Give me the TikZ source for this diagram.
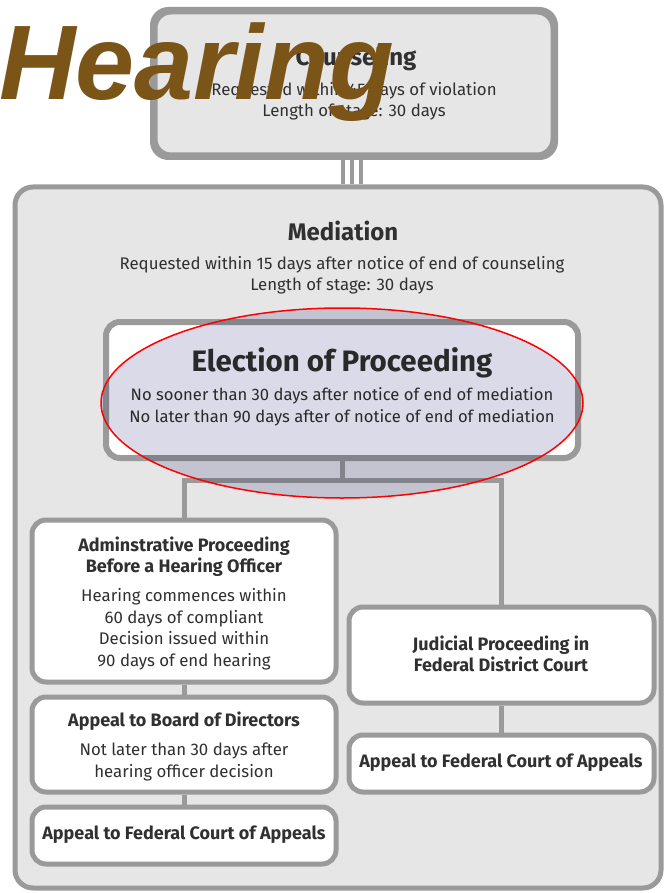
\documentclass[tikz,border=0pt]{standalone}
\usepackage{fontspec}
\setmainfont{Fira Sans}
\newfontfamily\stampfont{Liberation Sans}
\usetikzlibrary{calc}
\definecolor{edgegray}{HTML}{9A9A9A}
\definecolor{panel}{HTML}{E6E6E6}
\definecolor{ink}{HTML}{303030}
\definecolor{stampbrown}{HTML}{7B5418}
\definecolor{lavender}{RGB}{218,218,232}

\begin{document}
\begin{tikzpicture}[x=1pt,y=-1pt,
  panelbox/.style={draw=edgegray, line width=5pt, rounded corners=16pt, fill=panel, inner sep=0pt},
  stagebox/.style={draw=edgegray, line width=5pt, rounded corners=14pt, fill=white, inner sep=0pt},
  conn/.style={draw=edgegray, line width=5pt},
  heading/.style={text=ink, font=\bfseries\fontsize{24}{30}\selectfont, inner sep=0pt},
  bigheading/.style={text=ink, font=\bfseries\fontsize{29.5}{32}\selectfont, inner sep=0pt},
  boxtitle/.style={text=ink, font=\bfseries\fontsize{18}{21}\selectfont, align=center, inner sep=0pt},
  bodytext/.style={text=ink, font=\fontsize{16.8}{21.5}\selectfont, align=center, inner sep=0pt}
]
\useasboundingbox (0,0) rectangle (664,893);
\fill[white] (0,0) rectangle (664,893);

% Stage boxes
\node[panelbox, minimum width=398, minimum height=143] (counsel) at (354,83.5) {};
\node[panelbox, rounded corners=18pt, minimum width=646, minimum height=701] (med) at (338,537.5) {};

% Three-bar link between counseling and mediation
\fill[white] ($(counsel.south)+(-15,0)$) rectangle ($(counsel.south |- med.north)+(13,0)$);
\foreach \dx in {-11,-2,7}{
  \draw[edgegray, line width=4pt] ($(counsel.south)+(\dx,0)$) -- ($(counsel.south |- med.north)+(\dx,0)$);
}
\draw[edgegray, line width=5pt, rounded corners=16pt] (counsel.south west) rectangle (counsel.north east);

% Branch point below the election box
\coordinate (split) at (342,480);

\node[stagebox, line width=6pt, minimum width=472, minimum height=136] (elect) at (342,390) {};
\node[stagebox, minimum width=304, minimum height=162] (admin) at (184,601) {};
\node[stagebox, minimum width=304, minimum height=95] (board) at (184,744.5) {};
\node[stagebox, minimum width=304, minimum height=57] (fcaleft) at (184,835.5) {};
\node[stagebox, minimum width=305, minimum height=96] (judic) at (501.5,655) {};
\node[stagebox, minimum width=305, minimum height=57] (fcaright) at (501.5,763.5) {};

% Connectors
\draw[conn] (elect.south) -- (split);
\draw[conn] (admin.north) |- (split) -| (judic.north);
\draw[conn] (admin.south) -- (board.north);
\draw[conn] (board.south) -- (fcaleft.north);
\draw[conn] (judic.south) -- (fcaright.north);

% Texts
\node[heading] (counseltitle) at (356,58) {Counseling};
\node[bodytext] (counselbody) at (354,101) {Requested within 45 days of violation\\Length of stage: 30 days};

\node[heading] (medtitle) at (343,231) {Mediation};
\node[bodytext, font=\fontsize{16.8}{20.5}\selectfont] (medbody) at (342,275) {Requested within 15 days after notice of end of counseling\\Length of stage: 30 days};

\node[bigheading] (electtitle) at (342,363) {Election of Proceeding};
\node[bodytext, font=\fontsize{16.6}{22}\selectfont] (electbody) at (342,407) {No sooner than 30 days after notice of end of mediation\\No later than 90 days after of notice of end of mediation};

\node[boxtitle] (admintitle) at (184,557) {Adminstrative Proceeding\\Before a Hearing Officer};
\node[bodytext] (adminbody) at (184,629) {Hearing commences within\\60 days of compliant\\Decision issued within\\90 days of end hearing};

\node[boxtitle] (boardtitle) at (184,721) {Appeal to Board of Directors};
\node[bodytext] (boardbody) at (184,762) {Not later than 30 days after\\hearing officer decision};

\node[boxtitle] (fcalefttext) at (184,835) {Appeal to Federal Court of Appeals};
\node[boxtitle] (judictext) at (501,654) {Judicial Proceeding in\\Federal District Court};
\node[boxtitle] (fcarighttext) at (501,763) {Appeal to Federal Court of Appeals};

% Highlight ring around the election stage
\fill[lavender, blend mode=multiply] (342,403) ellipse [x radius=241, y radius=95];
\draw[red, line width=1.5pt] (342,403) ellipse [x radius=241, y radius=95];

% Stamp word
\node[anchor=base west, inner sep=0pt, text=stampbrown, font=\stampfont\bfseries\itshape\fontsize{106}{110}\selectfont] (stamp) at (-1,100) {Hearing};
\end{tikzpicture}
\end{document}
